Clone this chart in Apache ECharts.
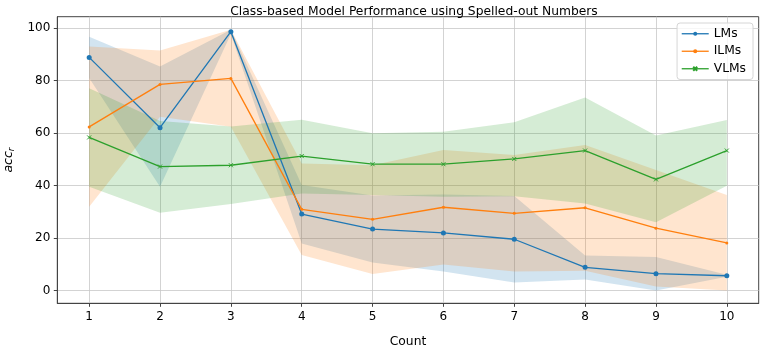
<!DOCTYPE html>
<html>
<head>
<meta charset="utf-8">
<script src="https://cdn.jsdelivr.net/npm/echarts@6/dist/echarts.min.js"></script>
<style>
  html, body { margin: 0; padding: 0; background: #fff; }
  #chart { width: 762px; height: 350px; }
</style>
</head>
<body>
<div id="chart"></div>
<script>
  // x 轴：Count
  const counts = [1, 2, 3, 4, 5, 6, 7, 8, 9, 10]
  const yTicks = [0, 20, 40, 60, 80, 100]

  // LMs
  const lmsMean = [88.9, 62.1, 98.7, 29.2, 23.5, 22.0, 19.6, 8.9, 6.5, 5.7]
  const lmsLow = [81.0, 39.6, 97.8, 18.0, 10.7, 7.3, 3.1, 4.3, 0.1, 5.3]
  const lmsHigh = [96.8, 85.4, 99.4, 40.3, 36.3, 36.7, 36.1, 13.4, 12.8, 6.1]

  // ILMs
  const ilmsMean = [62.4, 78.6, 80.9, 31.0, 27.2, 31.8, 29.5, 31.6, 23.8, 18.2]
  const ilmsLow = [32.0, 66.3, 62.5, 13.6, 6.4, 10.0, 7.3, 7.6, 1.6, 0.1]
  const ilmsHigh = [93.0, 91.5, 99.4, 48.5, 47.8, 53.6, 51.7, 55.5, 46.0, 36.5]

  // VLMs
  const vlmsMean = [58.4, 47.3, 47.8, 51.3, 48.2, 48.2, 50.2, 53.4, 42.4, 53.4]
  const vlmsLow = [39.6, 29.7, 33.0, 37.0, 36.5, 35.8, 36.0, 33.2, 26.1, 40.0]
  const vlmsHigh = [77.1, 64.7, 62.6, 65.1, 60.0, 60.6, 64.2, 73.6, 59.1, 65.0]

  const font = 'DejaVu Sans'
  const groups = [
    { name: 'LMs', color: '#1f77b4', mean: lmsMean, low: lmsLow, high: lmsHigh, symbol: 'circle', size: 5 },
    { name: 'ILMs', color: '#ff7f0e', mean: ilmsMean, low: ilmsLow, high: ilmsHigh, symbol: 'circle', size: 3 },
    { name: 'VLMs', color: '#2ca02c', mean: vlmsMean, low: vlmsLow, high: vlmsHigh, symbol: 'path://M0,0L10,10M10,0L0,10', size: 4 }
  ]

  function zip (a, b) {
    return a.map((v, i) => [v, b[i]])
  }

  // 阴影带：用 custom 画一个多边形
  function bandSeries (g) {
    return {
      type: 'custom',
      silent: true,
      z: 1,
      data: counts.map((c, i) => [c, g.low[i], g.high[i]]),
      renderItem (params, api) {
        if (params.dataIndex !== 0) return null
        const pts = []
        counts.forEach((c, i) => pts.push(api.coord([c, g.high[i]])))
        for (let i = counts.length - 1; i >= 0; i--) pts.push(api.coord([counts[i], g.low[i]]))
        return {
          type: 'polygon',
          shape: { points: pts },
          style: { fill: g.color, opacity: 0.2 }
        }
      }
    }
  }

  function lineSeries (g) {
    const isCross = g.symbol.indexOf('path') === 0
    return {
      name: g.name,
      type: 'line',
      z: 3,
      data: zip(counts, g.mean),
      symbol: g.symbol,
      symbolSize: g.size,
      showSymbol: true,
      lineStyle: { color: g.color, width: 1.3 },
      itemStyle: isCross
        ? { color: 'rgba(0,0,0,0)', borderColor: g.color, borderWidth: 1 }
        : { color: g.color, borderWidth: 0 },
      emphasis: { disabled: true }
    }
  }

  const chart = echarts.init(document.getElementById('chart'))
  chart.setOption({
    animation: false,
    backgroundColor: '#fff',
    title: {
      text: 'Class-based Model Performance using Spelled-out Numbers',
      left: 409,
      textAlign: 'center',
      top: 1,
      textStyle: { fontFamily: font, fontSize: 12.3, fontWeight: 'normal', color: '#000' }
    },
    legend: {
      right: 9,
      top: 23,
      orient: 'vertical',
      itemWidth: 27,
      itemHeight: 5,
      itemGap: 4,
      padding: [4, 7, 4, 4],
      backgroundColor: 'rgba(255,255,255,0.8)',
      borderColor: '#d6d6d6',
      borderWidth: 1,
      borderRadius: 3,
      lineStyle: { width: 1.3 },
      textStyle: { fontFamily: font, fontSize: 12.3, color: '#000', lineHeight: 13.5 },
      data: groups.map(g => g.name)
    },
    grid: {
      left: 57.3, right: 3.3, top: 16.7, bottom: 46.7, containLabel: false,
      outerBoundsMode: 'none',
      show: true, borderColor: '#444', borderWidth: 1, backgroundColor: 'transparent'
    },
    xAxis: {
      type: 'value',
      min: 0.55,
      max: 10.45,
      name: 'Count',
      nameLocation: 'middle',
      nameGap: 33,
      nameTextStyle: { fontFamily: font, fontSize: 12.3, color: '#000' },
      axisLine: { show: true, onZero: false, lineStyle: { color: '#444', width: 1 } },
      axisTick: { show: true, length: 3.5, customValues: counts, lineStyle: { color: '#444' } },
      axisLabel: { customValues: counts, margin: 8, fontFamily: font, fontSize: 12, color: '#000' },
      splitLine: { show: true, lineStyle: { color: '#c8c8c8', width: 0.8 } }
    },
    yAxis: {
      type: 'value',
      min: -4.8,
      max: 104.4,
      name: '{a|acc}{r|r}',
      nameLocation: 'middle',
      nameGap: 40,
      nameRotate: 90,
      nameTextStyle: {
        rich: {
          a: { fontFamily: font, fontSize: 12.5, fontStyle: 'italic', color: '#000' },
          r: { fontFamily: font, fontSize: 9, fontStyle: 'italic', color: '#000', padding: [6, 0, 0, 0] }
        }
      },
      axisLine: { show: true, onZero: false, lineStyle: { color: '#444', width: 1 } },
      axisTick: { show: true, length: 3.5, customValues: yTicks, lineStyle: { color: '#444' } },
      axisLabel: { customValues: yTicks, margin: 7, fontFamily: font, fontSize: 12, color: '#000' },
      splitLine: { show: true, lineStyle: { color: '#c8c8c8', width: 0.8 } }
    },
    series: groups.map(bandSeries).concat(groups.map(lineSeries))
  })
</script>
</body>
</html>
